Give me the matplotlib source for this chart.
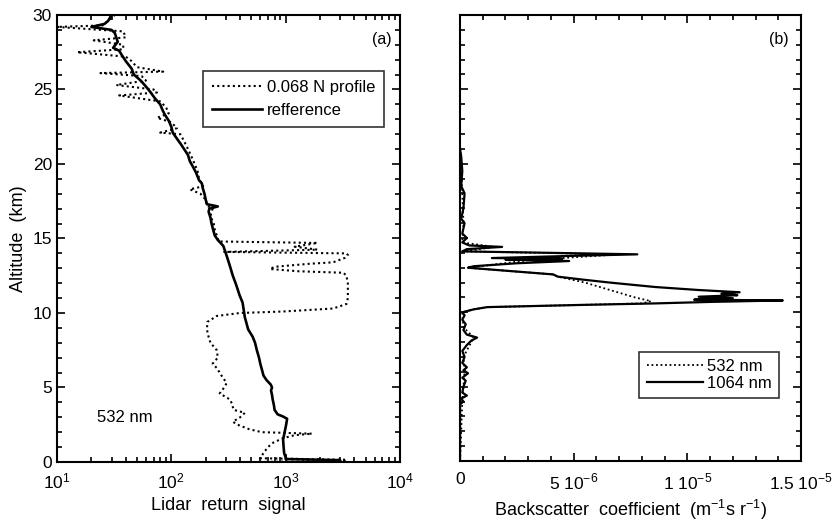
import numpy as np
import matplotlib
matplotlib.use('Agg')
import matplotlib.pyplot as plt
from matplotlib.ticker import MultipleLocator, FixedLocator, LogLocator, NullFormatter

plt.rcParams['font.family'] = ['Liberation Sans', 'DejaVu Sans']
plt.rcParams['mathtext.fontset'] = 'custom'
plt.rcParams['mathtext.rm'] = 'Liberation Sans'

# panel (a): lidar return signal, (altitude km, signal)
ref_profile = [
    (0.0, 3000), (0.12, 3000), (0.2, 1000), (0.3, 1000), (0.6, 970), (1.0, 960),
    (1.5, 950), (2.0, 980), (2.5, 1010), (2.9, 1030), (3.05, 950), (3.2, 850),
    (3.5, 800), (3.8, 790), (4.2, 770), (4.5, 760), (4.8, 745), (5.0, 760),
    (5.2, 740), (5.5, 680), (5.8, 640), (6.2, 620), (6.6, 600), (7.0, 585),
    (7.5, 560), (8.0, 540), (8.4, 515), (8.9, 470), (9.3, 455), (9.7, 440),
    (10.2, 430), (10.7, 420), (11.2, 395), (11.6, 380), (12.0, 365), (12.5, 345),
    (13.0, 330), (13.5, 315), (14.0, 300), (14.5, 285), (14.9, 255), (15.2, 240),
    (15.6, 232), (16.0, 225), (16.4, 220), (16.8, 212), (17.0, 215), (17.15, 255),
    (17.3, 205), (17.6, 200), (18.0, 195), (18.4, 188), (18.7, 185), (18.9, 175),
    (19.4, 165), (19.8, 155), (20.2, 145), (20.6, 140), (20.9, 132), (21.3, 122),
    (21.7, 112), (22.1, 103), (22.5, 100), (22.9, 95), (23.3, 88), (23.6, 84),
    (24.0, 80), (24.4, 72), (24.8, 66), (25.2, 60), (25.6, 54), (26.0, 47),
    (26.4, 45), (26.9, 40), (27.3, 37), (27.6, 35), (27.8, 31), (28.2, 34),
    (28.5, 33), (28.8, 32), (29.0, 30), (29.2, 20), (29.4, 26), (29.6, 28),
    (29.8, 29), (30.0, 30),
]

n068_profile = [
    (0.0, 600), (0.08, 3400), (0.15, 3400), (0.25, 600), (0.6, 640), (1.0, 700),
    (1.3, 780), (1.6, 950), (1.8, 1200), (1.9, 1700), (2.0, 620), (2.2, 480),
    (2.5, 380), (2.7, 345), (3.0, 400), (3.3, 440), (3.5, 350), (3.9, 340),
    (4.2, 325), (4.6, 265), (5.0, 290), (5.3, 305), (5.7, 280), (6.0, 265),
    (6.3, 250), (6.6, 230), (7.0, 255), (7.5, 250), (8.0, 220), (8.5, 210),
    (8.9, 205), (9.4, 207), (9.8, 250), (10.0, 400), (10.1, 950), (10.3, 2600),
    (10.6, 3400), (11.0, 3500), (12.0, 3500), (12.5, 3400), (12.7, 3200),
    (12.8, 1300), (12.95, 730), (13.1, 800), (13.3, 1600), (13.4, 2600),
    (13.7, 3300), (13.9, 3500), (14.0, 3400), (14.1, 290), (14.25, 1900),
    (14.45, 1200), (14.7, 1900), (14.8, 260), (15.2, 250), (15.6, 240),
    (16.0, 235), (16.5, 220), (17.0, 230), (17.2, 205), (17.6, 200), (18.0, 180),
    (18.3, 145), (18.5, 190), (19.0, 175), (19.5, 170), (20.0, 160), (20.5, 150),
    (21.0, 140), (21.5, 130), (22.0, 120), (22.1, 80), (22.4, 112), (22.8, 100),
    (23.1, 75), (23.4, 95), (23.8, 90), (24.2, 80), (24.6, 35), (24.8, 75),
    (25.0, 70), (25.3, 33), (25.6, 60), (25.9, 55), (26.1, 24), (26.2, 85),
    (26.5, 50), (26.9, 45), (27.2, 40), (27.5, 15), (27.7, 38), (28.0, 38),
    (28.3, 21), (28.5, 40), (28.9, 38), (29.2, 10), (29.3, 25), (29.6, 28),
    (29.8, 30), (30.0, 32),
]

# panel (b): backscatter coefficient, (altitude km, value in 1e-6 m-1 sr-1)
bsc_1064 = [
    (0.0, 0.0), (3.8, 0.0), (4.0, 0.15), (4.2, 0.05), (4.4, 0.3), (4.6, 0.1),
    (5.0, 0.15), (5.4, 0.25), (5.6, 0.1), (5.9, 0.35), (6.1, 0.15), (6.3, 0.3),
    (6.6, 0.1), (7.0, 0.2), (7.4, 0.1), (7.8, 0.3), (8.1, 0.5), (8.3, 0.75),
    (8.5, 0.3), (8.8, 0.15), (9.2, 0.25), (9.5, 0.1), (9.8, 0.2), (10.0, 0.1),
    (10.2, 0.6), (10.35, 1.2), (10.5, 5.4), (10.6, 8.6), (10.7, 11.0),
    (10.8, 14.2), (10.85, 10.3), (10.95, 12.0), (11.05, 10.5), (11.15, 12.2),
    (11.25, 11.5), (11.35, 12.3), (11.5, 10.5), (11.7, 8.6), (12.0, 6.6),
    (12.2, 5.4), (12.4, 4.3), (12.55, 4.1), (12.8, 2.0), (13.0, 0.35),
    (13.1, 0.6), (13.3, 2.5), (13.45, 4.8), (13.55, 2.0), (13.6, 4.5),
    (13.65, 1.4), (13.8, 5.0), (13.9, 7.8), (14.0, 4.0), (14.1, 0.1),
    (14.25, 0.3), (14.4, 1.85), (14.5, 0.4), (14.7, 0.1), (15.0, 0.3),
    (15.3, 0.1), (16.0, 0.2), (16.3, 0.05), (17.0, 0.15), (18.0, 0.2),
    (18.5, 0.05), (19.5, 0.1), (20.5, 0.05), (21.0, 0.0),
]

bsc_532 = [
    (0.0, 0.0), (4.0, 0.1), (5.0, 0.15), (6.0, 0.2), (7.0, 0.15), (8.3, 0.6),
    (9.0, 0.15), (10.0, 0.1), (10.2, 0.6), (10.35, 1.2), (10.5, 5.4),
    (10.6, 8.0), (10.75, 8.4), (11.0, 7.7), (11.5, 6.6), (12.0, 5.5),
    (12.4, 4.3), (12.55, 4.1), (12.8, 2.0), (13.0, 0.35), (13.5, 3.0),
    (13.9, 7.0), (14.1, 0.1), (14.4, 1.5), (14.7, 0.1), (16.0, 0.15),
    (18.0, 0.1), (21.0, 0.0),
]


def split(profile):
    arr = np.array(profile, dtype=float)
    return arr[:, 0], arr[:, 1]


def style_axis(ax):
    for sp in ax.spines.values():
        sp.set_linewidth(1.5)
    ax.tick_params(which='both', direction='in', top=True, right=True,
                   labelsize=12.5, width=1.2)
    ax.tick_params(which='major', length=6)
    ax.tick_params(which='minor', length=3.5)


fig = plt.figure(figsize=(8.34, 5.26), dpi=100)
ax1 = fig.add_axes([0.0683, 0.1217, 0.4113, 0.8498])
ax2 = fig.add_axes([0.5516, 0.1236, 0.4088, 0.8479])

# ---- panel (a)
alt_r, sig_r = split(ref_profile)
alt_n, sig_n = split(n068_profile)
ax1.plot(sig_n, alt_n, color='black', ls=(0, (1, 1.5)), lw=1.5, label='0.068 N profile')
ax1.plot(sig_r, alt_r, color='black', ls='-', lw=1.9, label='refference')
ax1.set_xscale('log')
ax1.set_xlim(10, 1e4)
ax1.set_ylim(0, 30)
ax1.yaxis.set_major_locator(MultipleLocator(5))
ax1.yaxis.set_minor_locator(MultipleLocator(1))
ax1.xaxis.set_major_locator(LogLocator(base=10, numticks=10))
ax1.xaxis.set_minor_locator(LogLocator(base=10, subs=np.arange(2, 10), numticks=10))
ax1.xaxis.set_minor_formatter(NullFormatter())
style_axis(ax1)
ax1.tick_params(axis='x', pad=7)
ax1.set_xlabel('Lidar  return  signal', fontsize=13)
ax1.set_ylabel('Altitude  (km)', fontsize=13, labelpad=4)
ax1.text(0.975, 0.945, '(a)', transform=ax1.transAxes, ha='right', va='center', fontsize=11.5)
ax1.text(0.118, 0.10, '532 nm', transform=ax1.transAxes, ha='left', va='center', fontsize=12)
leg1 = ax1.legend(loc='upper left', bbox_to_anchor=(0.425, 0.875), fontsize=12,
                  frameon=True, fancybox=False, edgecolor='black', handlelength=3.0,
                  borderpad=0.55, labelspacing=0.45, handletextpad=0.3, borderaxespad=0)
leg1.get_frame().set_linewidth(1.2)

# ---- panel (b)
alt_1, b_1 = split(bsc_1064)
alt_5, b_5 = split(bsc_532)
ax2.plot(b_5 * 1e-6, alt_5, color='black', ls=(0, (1, 1.5)), lw=1.3, label='532 nm')
ax2.plot(b_1 * 1e-6, alt_1, color='black', ls='-', lw=1.6, label='1064 nm')
ax2.set_xlim(0, 1.5e-5)
ax2.set_ylim(0, 30)
ax2.xaxis.set_major_locator(FixedLocator([0, 5e-6, 1e-5, 1.5e-5]))
ax2.xaxis.set_minor_locator(MultipleLocator(1e-6))
ax2.set_xticklabels(['0', r'5 10$^{-6}$', r'1 10$^{-5}$', r'1.5 10$^{-5}$'])
ax2.yaxis.set_major_locator(MultipleLocator(5))
ax2.yaxis.set_minor_locator(MultipleLocator(1))
style_axis(ax2)
ax2.tick_params(axis='y', labelleft=False)
ax2.tick_params(axis='x', pad=8)
ax2.set_xlabel(r'Backscatter  coefficient  (m$^{-1}$s r$^{-1}$)', fontsize=13)
ax2.text(0.965, 0.945, '(b)', transform=ax2.transAxes, ha='right', va='center', fontsize=11.5)
leg2 = ax2.legend(loc='upper left', bbox_to_anchor=(0.525, 0.245), fontsize=12,
                  frameon=True, fancybox=False, edgecolor='black', handlelength=3.4,
                  borderpad=0.45, labelspacing=0.1, handletextpad=0.2, borderaxespad=0)
leg2.get_frame().set_linewidth(1.2)

fig.savefig('out.png', dpi=100)
